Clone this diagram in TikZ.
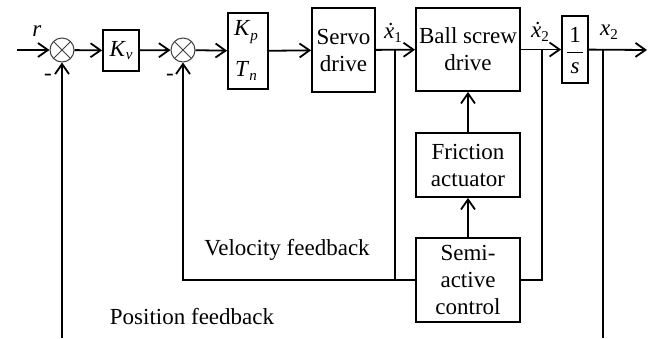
\documentclass[tikz,border=0pt]{standalone}
\usepackage{fontspec}
\setmainfont{Liberation Serif}
\usetikzlibrary{arrows.meta}
\begin{document}
\begin{tikzpicture}[x=1pt,y=-1pt,
  every node/.style={font=\rmfamily\fontsize{23}{27}\selectfont},
  blk/.style={draw,line width=1.8pt,inner sep=0pt,align=center},
  sumc/.style={draw=black!75,line width=1pt,circle,minimum size=24pt,inner sep=0pt},
  wire/.style={line width=1.8pt},
  arr/.style={wire,-{Straight Barb[length=10pt,width=14pt,line width=1.8pt]}},
  lbl/.style={inner sep=0pt}]
\useasboundingbox (0,0) rectangle (650,338);
% summing junctions
\node[sumc] (s1) at (62,50) {};
\node[sumc] (s2) at (183,50) {};
\foreach \s in {s1,s2}{
  \draw[black!75,line width=1pt] (\s.north east) -- (\s.south west);
  \draw[black!75,line width=1pt] (\s.north west) -- (\s.south east);
}
% blocks
\node[blk,minimum width=36pt,minimum height=41pt] (kv) at (121,50.5) {};
\node[lbl] at (kv.center) {\textit{K}\raisebox{-0.35ex}{\fontsize{15}{15}\selectfont\textit{v}}};
\node[blk,minimum width=40pt,minimum height=76pt] (kp) at (248,51) {};
\node[lbl] at (246,32) {\textit{K}\raisebox{-0.45ex}{\fontsize{15}{15}\selectfont\textit{p}}};
\node[lbl] at (246,71) {\textit{T}\raisebox{-0.45ex}{\fontsize{15}{15}\selectfont\textit{n}}};
\node[blk,minimum width=63pt,minimum height=84pt] (servo) at (343.5,50) {Servo\\drive};
\node[blk,minimum width=104pt,minimum height=83pt] (ball) at (468,49.5) {Ball screw\\drive};
\node[blk,minimum width=26pt,minimum height=67pt] (integ) at (575,49.5) {};
\node[lbl] (one) at (575,35) {1};
\node[lbl] (ess) at (575,68) {\textit{s}};
\draw[line width=1pt] (567,52) -- (583,52);
\node[blk,minimum width=104pt,minimum height=64pt] (fric) at (468,165) {Friction\\actuator};
\node[blk,minimum width=104pt,minimum height=84pt] (semi) at (468,280) {Semi-\\active\\control};
% coordinates
\coordinate (in) at (17,50);
\coordinate (b1) at (395,50);
\coordinate (b2) at (542,50);
\coordinate (b3) at (603,50);
\coordinate (out) at (647,50);
\coordinate (vl) at (183,280);
\coordinate (v1) at (395,280);
\coordinate (p1) at (62,338);
\coordinate (p2) at (603,338);
% forward path
\draw[arr] (in) -- (s1);
\draw[arr] (s1) -- (kv);
\draw[arr] (kv) -- (s2);
\draw[arr] (s2) -- (kp);
\draw[arr] (kp) -- (servo);
\draw[arr] (servo) -- (ball);
\draw[arr] (ball) -- (integ);
\draw[arr] (integ) -- (out);
% control path
\draw[arr] (semi) -- (fric);
\draw[arr] (fric) -- (ball);
% feedback
\draw[wire] (b1) -- (v1);
\draw[arr] (semi.west) -- (vl) -- (s2);
\draw[wire] (semi.east) -| (b2);
\draw[arr] (p1) -- (s1);
\draw[wire] (b3) -- (p2);
% labels
\node[lbl] at (37,31) {\textit{r}};
\node[lbl] at (48,77) {-};
\node[lbl] at (170,77) {-};
\node[lbl] at (393,33) {\textit{\.{x}}\raisebox{-0.4ex}{\fontsize{15}{15}\selectfont 1}};
\node[lbl] at (540,32) {\textit{\.{x}}\raisebox{-0.4ex}{\fontsize{15}{15}\selectfont 2}};
\node[lbl] at (609,32) {\textit{x}\raisebox{-0.4ex}{\fontsize{15}{15}\selectfont 2}};
\node[lbl] at (287,250) {Velocity feedback};
\node[lbl] at (192,317) {Position feedback};
\end{tikzpicture}
\end{document}
